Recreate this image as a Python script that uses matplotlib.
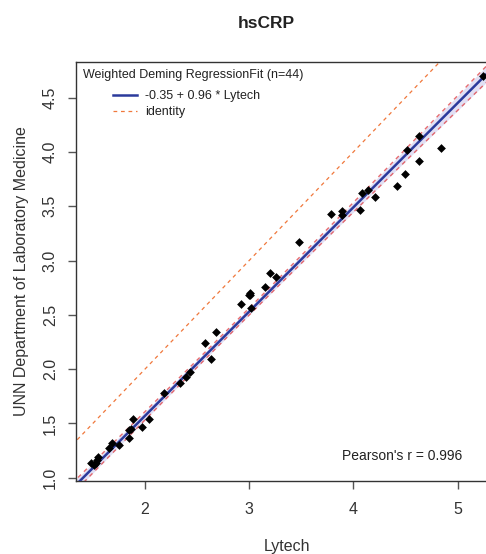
import matplotlib.pyplot as plt

plt.rcParams['font.family'] = ['Liberation Sans', 'DejaVu Sans']

# data
lytech = [1.482, 1.514, 1.537, 1.552, 1.530, 1.658, 1.681, 1.748, 1.844, 1.851,
          1.869, 1.888, 1.971, 2.041, 2.180, 2.339, 2.394, 2.432, 2.576, 2.629,
          2.684, 2.921, 2.998, 3.008, 3.015, 3.006, 3.155, 3.203, 3.255, 3.475,
          3.788, 3.888, 3.894, 4.068, 4.080, 4.143, 4.207, 4.416, 4.498, 4.512,
          4.630, 4.630, 4.841, 5.247]
unn = [1.135, 1.117, 1.163, 1.188, 1.135, 1.271, 1.322, 1.304, 1.363, 1.439,
       1.446, 1.538, 1.464, 1.538, 1.777, 1.869, 1.930, 1.976, 2.243, 2.093,
       2.346, 2.597, 2.682, 2.698, 2.560, 2.680, 2.756, 2.882, 2.851, 3.170,
       3.428, 3.456, 3.419, 3.465, 3.619, 3.649, 3.587, 3.686, 3.794, 4.018,
       4.146, 3.919, 4.033, 4.702]

intercept = -0.35
slope = 0.96
pearson_r = 0.996

# confidence band (half width around the fit) read at a few x positions
band_x = [1.30, 2.0, 2.6, 3.2, 3.8, 4.5, 5.40]
band_half = [0.050, 0.038, 0.032, 0.032, 0.040, 0.055, 0.078]

fig = plt.figure(figsize=(4.86, 5.54), dpi=100)
ax = fig.add_axes([76 / 486, 1 - 480.7 / 554, 423.3 / 486, 419 / 554])
ax.set_xlim(1.338, 5.40)
ax.set_ylim(0.9724, 4.8306)

fit_band = [intercept + slope * x for x in band_x]
lower = [f - h for f, h in zip(fit_band, band_half)]
upper = [f + h for f, h in zip(fit_band, band_half)]
ax.fill_between(band_x, lower, upper, color='#e2e0f4', lw=0, zorder=1)
ax.plot(band_x, lower, color='#e0474c', lw=1, ls=(0, (3, 3)), alpha=0.8, zorder=2)
ax.plot(band_x, upper, color='#e0474c', lw=1, ls=(0, (3, 3)), alpha=0.8, zorder=2)

xs = [1.3, 5.4]
ax.plot(xs, [intercept + slope * x for x in xs], color='#2b3a9c', lw=1.8, zorder=3,
        label='-0.35 + 0.96 * Lytech')
ax.plot(xs, xs, color='#f0783c', lw=0.9, ls=(0, (3, 3)), zorder=2, label='identity')

ax.scatter(lytech, unn, marker='D', s=20, color='black', lw=0, zorder=4)

for side in ['top', 'left', 'bottom', 'right']:
    ax.spines[side].set_color('#333333')
    ax.spines[side].set_linewidth(1.0)

ax.set_xticks([2, 3, 4, 5])
ax.set_yticks([1.0, 1.5, 2.0, 2.5, 3.0, 3.5, 4.0, 4.5])
ax.set_yticklabels(['1.0', '1.5', '2.0', '2.5', '3.0', '3.5', '4.0', '4.5'],
                   rotation=90, va='center')
ax.tick_params(axis='both', length=6, width=1, color='#555555', labelsize=11.5,
               labelcolor='#333333')
ax.tick_params(axis='x', pad=9)
ax.tick_params(axis='y', pad=7)

fig.text(287 / 486, 1 - 546 / 554, 'Lytech', ha='center', va='center',
         fontsize=11.5, color='#333333')
fig.text(22 / 486, 1 - 271 / 554, 'UNN Department of Laboratory Medicine',
         rotation=90, ha='center', va='center', fontsize=11.5, color='#333333')
fig.text(266 / 486, 1 - 23 / 554, 'hsCRP', ha='center', va='center',
         fontsize=12.5, fontweight='bold', color='#222222')

fig.text(83 / 486, 1 - 75 / 554, 'Weighted Deming RegressionFit (n=44)',
         ha='left', va='center', fontsize=9, color='#222222')
leg = ax.legend(loc='upper left', bbox_to_anchor=(113 / 486, 1 - 90 / 554),
                bbox_transform=fig.transFigure, frameon=False, fontsize=9,
                handlelength=1.9, borderpad=0, borderaxespad=0,
                labelspacing=0.35, handletextpad=0.65)
for t in leg.get_texts():
    t.set_color('#222222')

ax.text((462 - 76) / 423.3, (477.7 - 453) / 419, "Pearson's r = %.3f" % pearson_r,
        transform=ax.transAxes, ha='right', va='center', fontsize=10,
        color='#222222')

fig.savefig('out.png', dpi=100)
